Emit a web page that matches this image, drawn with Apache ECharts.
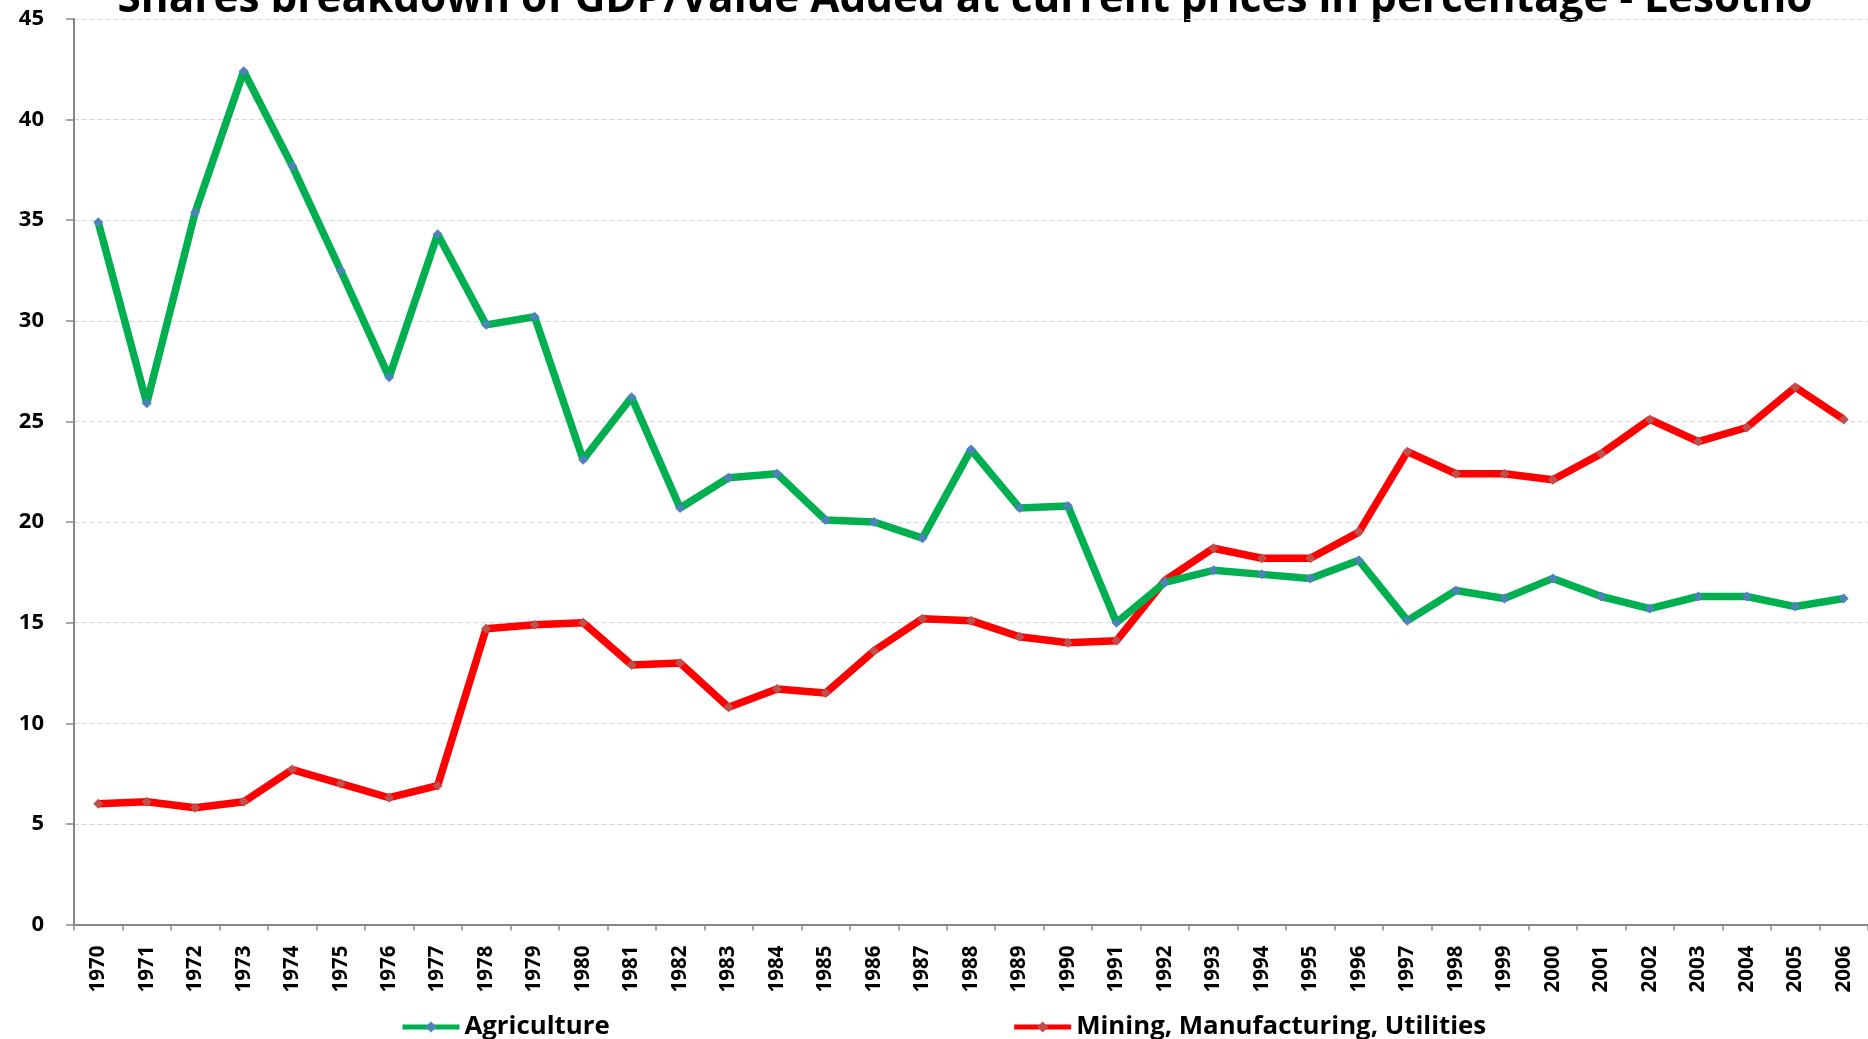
<!DOCTYPE html>
<html>
<head>
<meta charset="utf-8">
<script src="https://cdn.jsdelivr.net/npm/echarts@6/dist/echarts.min.js"></script>
<style>
html,body{margin:0;padding:0;background:#fff;}
#chart{width:1868px;height:1039px;}
</style>
</head>
<body>
<div id="chart"></div>
<script>
const titleText = 'Shares breakdown of GDP/Value Added at current prices in percentage - Lesotho';
const years = ['1970','1971','1972','1973','1974','1975','1976','1977','1978','1979','1980','1981','1982','1983','1984','1985','1986','1987','1988','1989','1990','1991','1992','1993','1994','1995','1996','1997','1998','1999','2000','2001','2002','2003','2004','2005','2006'];
const agriculture = [34.9,25.9,35.4,42.4,37.7,32.5,27.2,34.3,29.8,30.2,23.1,26.2,20.7,22.2,22.4,20.1,20.0,19.2,23.6,20.7,20.8,15.0,17.0,17.6,17.4,17.2,18.1,15.1,16.6,16.2,17.2,16.3,15.7,16.3,16.3,15.8,16.2];
const mining = [6.0,6.1,5.8,6.1,7.7,7.0,6.3,6.9,14.7,14.9,15.0,12.9,13.0,10.8,11.7,11.5,13.6,15.2,15.1,14.3,14.0,14.1,17.1,18.7,18.2,18.2,19.5,23.5,22.4,22.4,22.1,23.4,25.1,24.0,24.7,26.7,25.1];
const seriesNames = ['Agriculture','Mining, Manufacturing, Utilities'];
const yTicks = {min:0, max:45, interval:5};

const FONT = '"Open Sans", Lato, sans-serif';
// fit title width to the reference (about 1696px)
const cv = document.createElement('canvas').getContext('2d');
cv.font = 'bold 100px "Open Sans"';
const titleSize = Math.round(100 * 1696 / cv.measureText(titleText).width * 10) / 10;

const chart = echarts.init(document.getElementById('chart'), null, {renderer:'canvas'});
chart.setOption({
  backgroundColor:'#ffffff',
  animation:false,
  graphic:[{
    type:'text', x:965, y: -titleSize*0.62 + 5,
    style:{text:titleText, font:'bold '+titleSize+'px "Open Sans"', fill:'#000', align:'center', verticalAlign:'top'}
  }],
  grid:{left:74, right:0, top:19, bottom:114.5, containLabel:false},
  xAxis:{
    type:'category', data:years, boundaryGap:true,
    axisLine:{lineStyle:{color:'#868686', width:2}},
    axisTick:{show:true, alignWithLabel:false, length:6, lineStyle:{color:'#868686', width:1.5}},
    axisLabel:{rotate:90, interval:0, margin:21, fontFamily:FONT, fontWeight:'bold', fontSize:20.5, color:'#000'},
    splitLine:{show:false}
  },
  yAxis:{
    type:'value', min:yTicks.min, max:yTicks.max, interval:yTicks.interval,
    axisLine:{show:true, lineStyle:{color:'#868686', width:2}},
    axisTick:{show:true, length:8, lineStyle:{color:'#868686', width:1.5}},
    axisLabel:{margin:30, fontFamily:FONT, fontWeight:'bold', fontSize:22, color:'#000'},
    splitLine:{show:true, lineStyle:{color:'#d9d9d9', type:[5,3], width:1.2}}
  },
  legend:{
    bottom:-1, left:400, padding:0, itemGap:402, itemWidth:57, itemHeight:14,
    lineStyle:{width:5},
    textStyle:{fontFamily:FONT, fontSize:25.8, color:'#000', fontWeight:'bold', padding:[0,0,0,0]},
    data:seriesNames
  },
  series:[
    {name:seriesNames[0], type:'line', data:agriculture,
     lineStyle:{color:'#00b050', width:7.5}, itemStyle:{color:'#4f81bd'},
     symbol:'diamond', symbolSize:10, showSymbol:true, z:3},
    {name:seriesNames[1], type:'line', data:mining,
     lineStyle:{color:'#ff0000', width:7.5}, itemStyle:{color:'#c0504d'},
     symbol:'diamond', symbolSize:10, showSymbol:true, z:2}
  ]
});
</script>
</body>
</html>
